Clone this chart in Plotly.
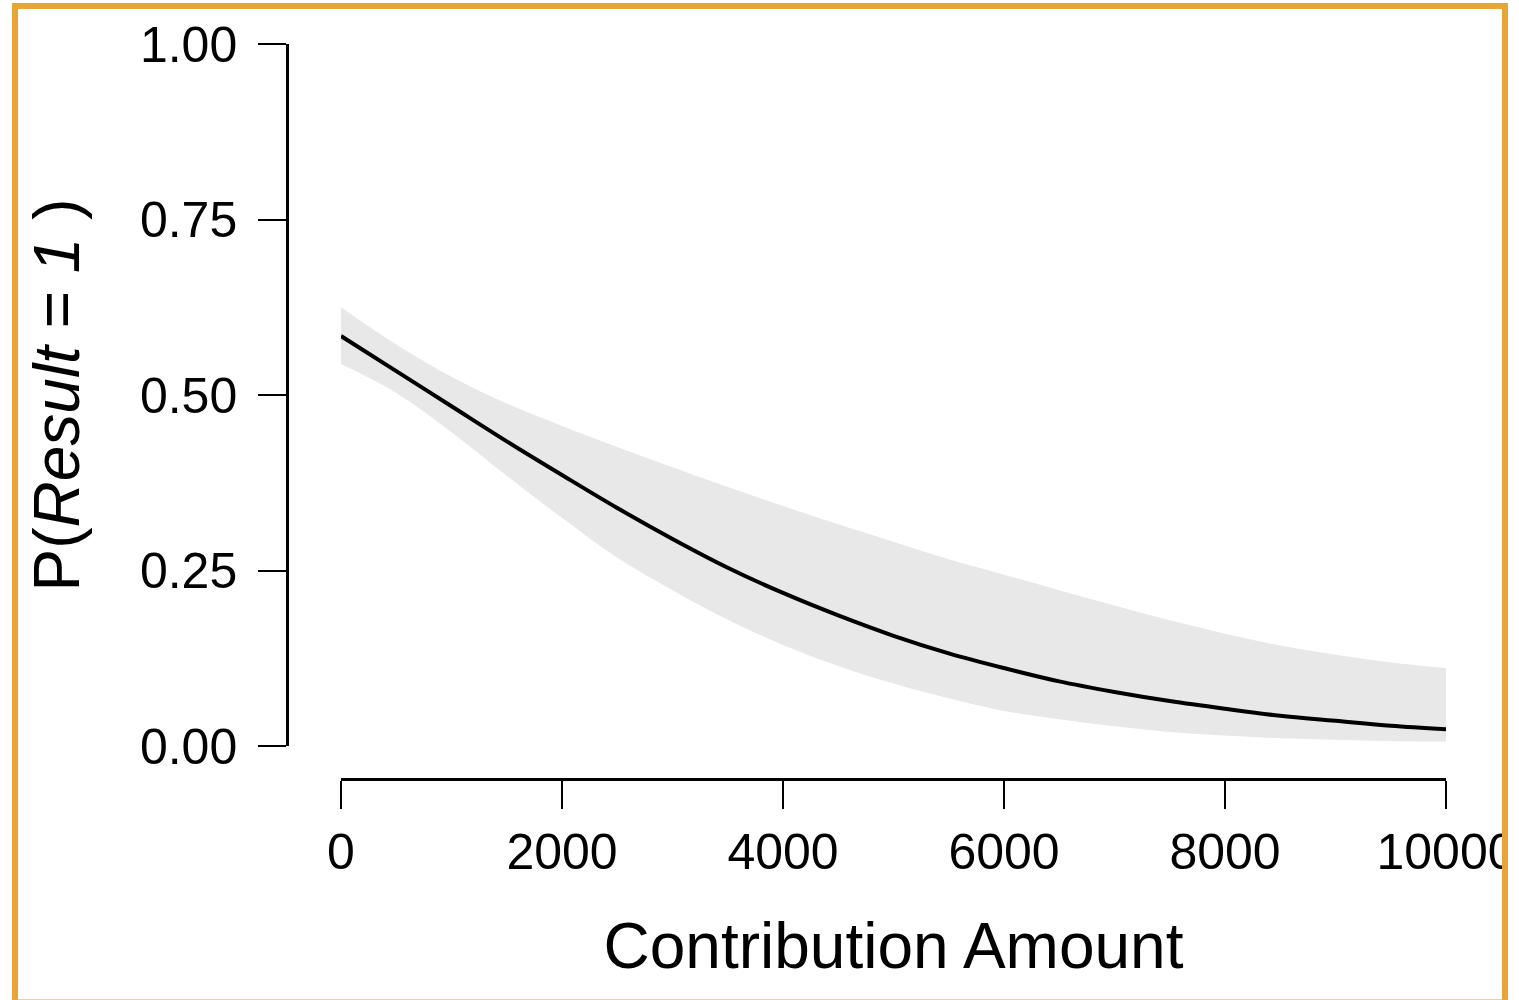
import plotly.graph_objects as go

# ---- data ----
contribution = [0, 500, 1000, 1500, 2000, 2500, 3000, 3500, 4000, 4500, 5000,
                5500, 6000, 6500, 7000, 7500, 8000, 8500, 9000, 9500, 10000]
p_fit = [0.584, 0.534, 0.484, 0.434, 0.386, 0.339, 0.295, 0.254, 0.218, 0.186, 0.157,
         0.132, 0.111, 0.092, 0.077, 0.064, 0.053, 0.043, 0.036, 0.029, 0.024]
p_upper = [0.625, 0.572, 0.526, 0.488, 0.456, 0.426, 0.397, 0.369, 0.342, 0.316, 0.291,
           0.266, 0.244, 0.222, 0.200, 0.179, 0.160, 0.143, 0.130, 0.119, 0.111]
p_lower = [0.544, 0.503, 0.447, 0.385, 0.325, 0.268, 0.222, 0.180, 0.144, 0.114, 0.089,
           0.068, 0.050, 0.038, 0.028, 0.020, 0.015, 0.011, 0.009, 0.007, 0.006]

x_ticks = [0, 2000, 4000, 6000, 8000, 10000]
x_tick_labels = ["0", "2000", "4000", "6000", "8000", "10000"]
y_ticks = [0, 0.25, 0.5, 0.75, 1.0]
y_tick_labels = ["0.00", "0.25", "0.50", "0.75", "1.00"]

FONT = "Liberation Sans, Arial, sans-serif"
W, H = 1519, 1000

fig = go.Figure()
fig.add_trace(go.Scatter(x=contribution, y=p_lower, mode="lines",
                         line=dict(width=0, color="#e8e8e8", shape="spline"),
                         showlegend=False, hoverinfo="skip"))
fig.add_trace(go.Scatter(x=contribution, y=p_upper, mode="lines", fill="tonexty",
                         fillcolor="#e8e8e8",
                         line=dict(width=0, color="#e8e8e8", shape="spline"),
                         showlegend=False, hoverinfo="skip"))
fig.add_trace(go.Scatter(x=contribution, y=p_fit, mode="lines",
                         line=dict(width=4, color="black", shape="spline"),
                         showlegend=False))

fig.update_layout(
    width=W, height=H,
    margin=dict(l=0, r=0, t=0, b=0),
    paper_bgcolor="white", plot_bgcolor="white",
    font=dict(family=FONT, color="black"),
    xaxis=dict(
        domain=[341 / W, 1446 / W], range=[0, 10000],
        anchor="free", position=1 - 779 / H,
        showgrid=False, zeroline=False,
        showline=True, linecolor="black", linewidth=2.5,
        ticks="outside", ticklen=28, tickwidth=2, tickcolor="black",
        tickvals=x_ticks, ticktext=x_tick_labels,
        tickfont=dict(size=50, family=FONT, color="black"),
        ticklabelstandoff=0,
        title=dict(text="Contribution Amount", font=dict(size=64, family=FONT, color="black"),
                   standoff=44),
        automargin=False,
    ),
    yaxis=dict(
        domain=[1 - 746 / H, 1 - 44 / H], range=[0, 1],
        anchor="free", position=287 / W,
        showgrid=False, zeroline=False,
        showline=True, linecolor="black", linewidth=2.5,
        ticks="outside", ticklen=28, tickwidth=2, tickcolor="black",
        tickvals=y_ticks, ticktext=y_tick_labels,
        tickfont=dict(size=50, family=FONT, color="black"),
        ticklabelstandoff=11,
        title=dict(text="P(<i>Result</i> = <i>1</i> )", font=dict(size=64, family=FONT, color="black"),
                   standoff=38),
        automargin=False,
    ),
    shapes=[
        dict(type="rect", xref="paper", yref="paper", x0=1508 / W, x1=1.01, y0=-0.01, y1=1.01,
             fillcolor="white", line=dict(width=0), layer="above"),
        dict(type="rect", xref="paper", yref="paper", x0=15 / W, x1=1505 / W,
             y0=-2.5 / H, y1=1 - 6 / H,
             fillcolor="rgba(0,0,0,0)", line=dict(width=6, color="#e8a435"), layer="above"),
    ],
)

fig.write_html("out.html", config={"displayModeBar": False},
               post_script="document.body.style.margin='0px';")
